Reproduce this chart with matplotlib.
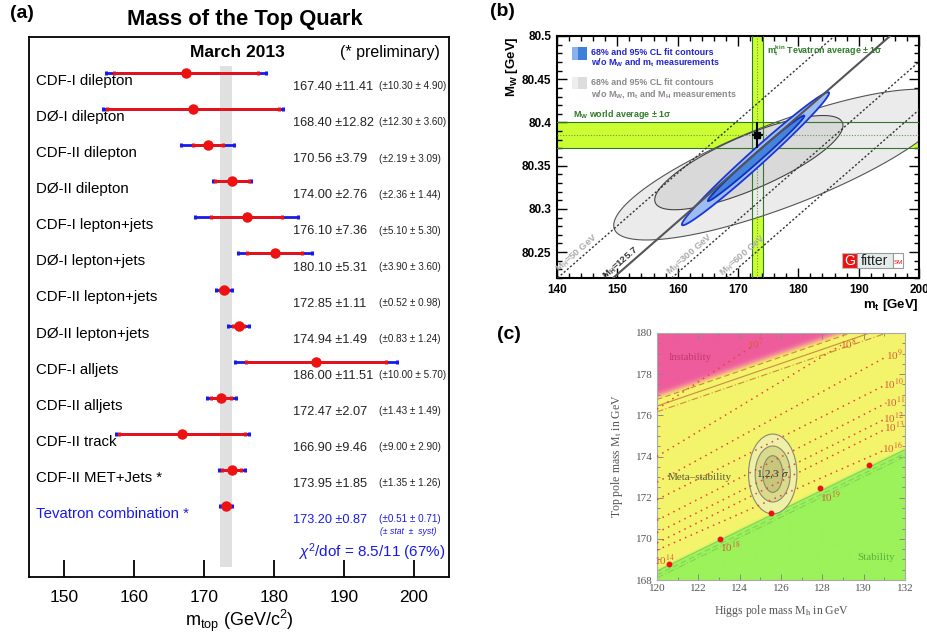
import numpy as np
import matplotlib
matplotlib.use('Agg')
import matplotlib.pyplot as plt
from matplotlib.patches import Ellipse, Rectangle
from matplotlib.colors import LinearSegmentedColormap, to_rgb
from matplotlib.ticker import MultipleLocator, FuncFormatter

plt.rcParams['font.family'] = ['Liberation Sans', 'DejaVu Sans']
plt.rcParams['mathtext.fontset'] = 'custom'
plt.rcParams['mathtext.rm'] = 'Liberation Sans'
plt.rcParams['mathtext.it'] = 'Liberation Sans:italic'
plt.rcParams['mathtext.bf'] = 'Liberation Sans:bold'

W_PX, H_PX = 927, 635

# ---------------- (a) top quark mass measurements ----------------
meas_names = ['CDF-I dilepton', 'DØ-I dilepton', 'CDF-II dilepton', 'DØ-II dilepton',
              'CDF-I lepton+jets', 'DØ-I lepton+jets', 'CDF-II lepton+jets',
              'DØ-II lepton+jets', 'CDF-I alljets', 'CDF-II alljets', 'CDF-II track',
              'CDF-II MET+Jets *', 'Tevatron combination *']
meas_mass = [167.40, 168.40, 170.56, 174.00, 176.10, 180.10, 172.85, 174.94,
             186.00, 172.47, 166.90, 173.95, 173.20]
meas_tot = [11.41, 12.82, 3.79, 2.76, 7.36, 5.31, 1.11, 1.49, 11.51, 2.07, 9.46, 1.85, 0.87]
meas_stat = [10.30, 12.30, 2.19, 2.36, 5.10, 3.90, 0.52, 0.83, 10.00, 1.43, 9.00, 1.35, 0.51]
meas_syst = [4.90, 3.60, 3.09, 1.44, 5.30, 3.60, 0.98, 1.24, 5.70, 1.49, 2.90, 1.26, 0.71]
mtop_ticks = [150, 160, 170, 180, 190, 200]

# ---------------- (b) Gfitter M_W vs m_t ----------------
mw_avg, mw_err = 80.385, 0.015
# M_H lines: m_t where each line meets the bottom (80.22) and the top (80.5) of the frame
mh_line_names = ['M$_\\mathbf{H}$=50 GeV', 'M$_\\mathbf{H}$=125.7',
                 'M$_\\mathbf{H}$=300 GeV', 'M$_\\mathbf{H}$=600 GeV']
mh_line_lo = [140.1, 149.3, 159.0, 168.1]
mh_line_hi = [186.0, 195.2, 204.9, 214.0]
mh_label_mt = [143.9, 151.2, 162.6, 171.5]
# contours: centre m_t, half width, centre M_W, half height, phase
gray95 = (177.3, 27.9, 80.3512, 0.0872, 0.633)
gray68 = (171.8, 15.6, 80.3535, 0.0545, 0.663)
blue95 = (172.9, 12.2, 80.358, 0.077, 0.16)
blue68 = (173.0, 8.0, 80.3585, 0.0495, 0.13)

# ---------------- (c) vacuum stability ----------------
instab_mh = [120.0, 130.3]
instab_mt = [176.45, 180.0]
stab_mh = [120.0, 132.0]
stab_mt = [168.55, 174.45]
scale_names = ['7', '8', '9', '10', '11', '12', '13', '16']
scale_lo_mt = [176.3, 174.0, 172.75, 171.9, 170.9, 170.3, 169.8, 169.45]
scale_hi_mh = [124.6, 128.9, 131.1, 131.1, 131.1, 131.1, 131.1, 131.1]
scale_hi_mt = [179.35, 179.4, 178.85, 177.5, 176.6, 175.85, 175.35, 174.35]
scale_lab_mh = [124.75, 129.25, 131.5, 131.45, 131.5, 131.45, 131.5, 131.4]
scale_lab_mt = [179.42, 179.42, 178.93, 177.55, 176.66, 175.89, 175.42, 174.43]
dot_mh = [120.6, 123.05, 125.5, 127.9, 130.25]
dot_mt = [168.8, 170.0, 171.25, 172.45, 173.6]
fit_mh, fit_mt = 125.6, 173.15
sigma_w = [1.17, 0.85, 0.48]
sigma_h = [1.94, 1.36, 0.89]


def px_axes(fig, x0, y0, x1, y1):
    return fig.add_axes([x0 / W_PX, 1 - y1 / H_PX, (x1 - x0) / W_PX, (y1 - y0) / H_PX])


fig = plt.figure(figsize=(W_PX / 100, H_PX / 100), dpi=100)

# ======================= panel (a) =======================
red, blue = '#ee1111', '#1a1ae6'
axa = px_axes(fig, 29, 37, 449, 577)
axa.set_xlim(145, 205)
axa.set_ylim(13.97, -1.0)
rows = np.arange(len(meas_names))

axa.axvspan(meas_mass[-1] - meas_tot[-1], meas_mass[-1] + meas_tot[-1],
            ymin=0.0185, ymax=0.946, color='#e0e0e0', lw=0, zorder=0)
axa.errorbar(meas_mass, rows, xerr=meas_tot, fmt='none', ecolor=blue,
             elinewidth=2, capsize=1.6, capthick=2.2, zorder=2)
axa.errorbar(meas_mass, rows, xerr=meas_stat, fmt='none', ecolor=red,
             elinewidth=2, capsize=1.6, capthick=2.2, zorder=3)
axa.plot(meas_mass, rows, 'o', color=red, ms=6.5, zorder=4)

for i, name in enumerate(meas_names):
    last = i == len(meas_names) - 1
    col = blue if last else 'black'
    ncol = blue if last else '#222222'
    axa.text(146.0, i + 0.22, name, fontsize=10.8, color=col, va='center')
    axa.text(182.7, i + 0.39, f'{meas_mass[i]:.2f} ±{meas_tot[i]:.2f}',
             fontsize=9.2, color=ncol, va='center')
    axa.text(195.0, i + 0.37, f'(±{meas_stat[i]:.2f} ± {meas_syst[i]:.2f})',
             fontsize=7.1, color=ncol, va='center')

axa.text(195.1, 12.72, '(± stat  ±  syst)', fontsize=6.2, style='italic', color=blue, va='center')
axa.text(194.0, 13.27, r'$\chi^2$/dof = 8.5/11 (67%)', fontsize=11, color=blue,
         ha='center', va='center')
axa.text(174.7, -0.58, 'March 2013', fontsize=12.5, fontweight='bold', ha='center', va='center')
axa.text(196.6, -0.58, '(* preliminary)', fontsize=11.5, ha='center', va='center')

axa.set_xticks(mtop_ticks)
axa.set_yticks([])
axa.tick_params(axis='x', direction='in', length=12, width=1.3, labelsize=12.5, pad=9)
axa.set_xlabel(r'm$_{\rm top}$ (GeV/c$^2$)', fontsize=13, labelpad=2)
for s in axa.spines.values():
    s.set_linewidth(1.3)

fig.text(245 / W_PX, 1 - 20 / H_PX, 'Mass of the Top Quark', fontsize=15.8,
         fontweight='bold', ha='center', va='center')
fig.text(10 / W_PX, 1 - 13 / H_PX, '(a)', fontsize=14, fontweight='bold', va='center')

# ======================= panel (b) =======================
lime, dgreen = '#ccff33', '#2f7a2a'
axb = px_axes(fig, 557, 36, 919, 278)
axb.set_xlim(140, 200)
axb.set_ylim(80.22, 80.5)

mt_avg, mt_err = meas_mass[-1], meas_tot[-1]
axb.axvspan(mt_avg - mt_err, mt_avg + mt_err, color=lime, lw=0, zorder=1)
axb.axhspan(mw_avg - mw_err, mw_avg + mw_err, color=lime, lw=0, zorder=1)


def contour(ax, pars, fc, ec, lw, z):
    cm, a, cw, b, phi = pars
    t = np.linspace(0, 2 * np.pi, 400)
    ax.fill(cm + a * np.cos(t), cw + b * np.cos(t + phi), facecolor=fc,
            edgecolor=ec, lw=lw, zorder=z)


contour(axb, gray95, '#ebebeb', '#555555', 0.8, 2)
contour(axb, gray68, '#d9d9d9', '#444444', 0.8, 3)

for v in (mt_avg - mt_err, mt_avg + mt_err):
    axb.axvline(v, color=dgreen, lw=0.8, zorder=4)
for v in (mw_avg - mw_err, mw_avg + mw_err):
    axb.axhline(v, color=dgreen, lw=0.8, zorder=4)
axb.axvline(mt_avg, color='#6a9a40', lw=0.8, ls=(0, (1, 1.5)), zorder=4)
axb.axhline(mw_avg, color='#6a9a40', lw=0.8, ls=(0, (1, 1.5)), zorder=4)

contour(axb, blue95, '#9dbcf2', '#1a35d8', 1.3, 5)
contour(axb, blue68, '#4684dc', '#1030c0', 1.3, 6)

for k in range(4):
    solid = (k == 1)
    axb.plot([mh_line_lo[k], mh_line_hi[k]], [80.22, 80.5],
             color='#555555' if solid else '#333333', lw=1.5 if solid else 1.0,
             ls='-' if solid else (0, (1.5, 1.5)), zorder=7)
    frac = (mh_label_mt[k] - mh_line_lo[k]) / (mh_line_hi[k] - mh_line_lo[k])
    wy = 80.22 + 0.28 * frac
    ang = np.degrees(np.arctan2(0.28, mh_line_hi[k] - mh_line_lo[k]))
    axb.text(mh_label_mt[k], wy, mh_line_names[k], fontsize=6.8, fontweight='bold',
             color='#333333' if solid else '#aaaaaa', rotation=ang,
             rotation_mode='anchor', transform_rotates_text=True,
             ha='center', va='bottom', zorder=7)

axb.errorbar(mt_avg, mw_avg, xerr=mt_err, yerr=mw_err, fmt='s', color='black',
             ms=4, elinewidth=1.5, capsize=0, zorder=9)

# legend texts
axb.add_patch(Rectangle((0.041, 0.901), 0.016, 0.054, transform=axb.transAxes,
                        facecolor='#8ab0ee', lw=0, zorder=10))
axb.add_patch(Rectangle((0.057, 0.901), 0.026, 0.054, transform=axb.transAxes,
                        facecolor='#3f7fdc', lw=0, zorder=10))
axb.add_patch(Rectangle((0.041, 0.78), 0.016, 0.05, transform=axb.transAxes,
                        facecolor='#eeeeee', lw=0, zorder=10))
axb.add_patch(Rectangle((0.057, 0.78), 0.026, 0.05, transform=axb.transAxes,
                        facecolor='#dddddd', lw=0, zorder=10))
tb = dict(transform=axb.transAxes, fontsize=6.4, fontweight='bold', va='center', zorder=10)
axb.text(0.094, 0.93, '68% and 95% CL fit contours', color='#2424cc', **tb)
axb.text(0.094, 0.888, 'w/o M$_\\mathbf{W}$ and m$_\\mathbf{t}$ measurements', color='#2424cc', **tb)
axb.text(0.094, 0.806, '68% and 95% CL fit contours', color='#8a8a8a', **tb)
axb.text(0.094, 0.762, 'w/o M$_\\mathbf{W}$, m$_\\mathbf{t}$ and M$_\\mathbf{H}$ measurements',
         color='#8a8a8a', **tb)
axb.text(0.044, 0.674, 'M$_\\mathbf{W}$ world average ± 1σ', color=dgreen, **tb)
axb.text(0.58, 0.938, 'm$_\\mathbf{t}^\\mathbf{kin}$ Tevatron average ± 1σ', color=dgreen, **tb)

# Gfitter logo
axb.add_patch(Rectangle((0.787, 0.041), 0.042, 0.062, transform=axb.transAxes,
                        facecolor='#ee1111', edgecolor='#bbbbbb', lw=0.8, zorder=10))
axb.add_patch(Rectangle((0.829, 0.041), 0.099, 0.062, transform=axb.transAxes,
                        facecolor='#e4ecec', edgecolor='#999999', lw=0.8, zorder=10))
axb.add_patch(Rectangle((0.928, 0.041), 0.028, 0.062, transform=axb.transAxes,
                        facecolor='white', edgecolor='#999999', lw=0.8, zorder=10))
axb.text(0.808, 0.072, 'G', transform=axb.transAxes, color='white', fontsize=10,
         ha='center', va='center', zorder=11)
axb.text(0.878, 0.072, 'fitter', transform=axb.transAxes, color='#222222', fontsize=10,
         ha='center', va='center', zorder=11)
axb.text(0.942, 0.062, 'SM', transform=axb.transAxes, color='#ee1111', fontsize=4.5,
         ha='center', va='center', zorder=11)

axb.xaxis.set_major_locator(MultipleLocator(10))
axb.xaxis.set_minor_locator(MultipleLocator(2))
axb.yaxis.set_major_locator(MultipleLocator(0.05))
axb.yaxis.set_minor_locator(MultipleLocator(0.01))
axb.yaxis.set_major_formatter(FuncFormatter(lambda v, p: f'{v:g}'))
axb.tick_params(which='both', direction='in', top=True, right=True, width=1.0)
axb.tick_params(which='major', length=7, labelsize=8.5, pad=4)
axb.tick_params(which='minor', length=3.5)
for lbl in axb.get_xticklabels() + axb.get_yticklabels():
    lbl.set_fontweight('bold')
for s in axb.spines.values():
    s.set_linewidth(1.5)
axb.text(-0.124, 1.0, 'M$_\\mathbf{W}$ [GeV]', transform=axb.transAxes, rotation=90,
         fontsize=9.5, fontweight='bold', ha='center', va='top')
axb.text(1.0, -0.112, 'm$_\\mathbf{t}$ [GeV]', transform=axb.transAxes,
         fontsize=9.5, fontweight='bold', ha='right', va='center')
fig.text(490 / W_PX, 1 - 12 / H_PX, '(b)', fontsize=14, fontweight='bold', va='center')

# ======================= panel (c) =======================
axc = px_axes(fig, 657, 333, 905, 580)
mh_g = np.linspace(120, 132, 600)
mt_g = np.linspace(168, 180, 600)
MH, MT = np.meshgrid(mh_g, mt_g)
s_in = (instab_mt[1] - instab_mt[0]) / (instab_mh[1] - instab_mh[0])
s_st = (stab_mt[1] - stab_mt[0]) / (stab_mh[1] - stab_mh[0])
line_in = instab_mt[0] + s_in * (MH - instab_mh[0])
line_st = stab_mt[0] + s_st * (MH - stab_mh[0])
pink_cmap = LinearSegmentedColormap.from_list(
    'pk', ['#f4f46c', '#f6c47a', '#f3869a', '#f0649e', '#ee5c9c'])
p = np.clip((MT - line_in - 0.3) / 0.55, 0, 1)
g = np.clip((line_st - MT + 0.02) / 0.22, 0, 1)
img = pink_cmap(p)[..., :3]
green = np.array(to_rgb('#9cf25a'))
img = img * (1 - g[..., None]) + green * g[..., None]
axc.imshow(img, extent=[120, 132, 168, 180], origin='lower', aspect='auto',
           interpolation='bilinear', zorder=0)

mh_edge = np.array([120.0, 132.0])
for off, ls in [(0.32, (0, (5, 3))), (0.0, '-'), (-0.28, (0, (6, 2, 1, 2)))]:
    axc.plot(mh_edge, instab_mt[0] + off + s_in * (mh_edge - instab_mh[0]),
             color='#cc8a44', lw=0.8, ls=ls, zorder=2)
for off, ls in [(-0.12, '-'), (-0.3, (0, (5, 3))), (-0.45, (0, (6, 2, 1, 2)))]:
    axc.plot(mh_edge, stab_mt[0] + off + s_st * (mh_edge - stab_mh[0]),
             color='#7fd35a', lw=0.8, ls=ls, zorder=2)

ell_fc = ['#eef0a8', '#d9da8c', '#c6c67c']
for k in range(3):
    axc.add_patch(Ellipse((fit_mh, fit_mt), 2 * sigma_w[k], 2 * sigma_h[k],
                          facecolor=ell_fc[k], edgecolor='#8a8a6a', lw=0.8, zorder=3))
axc.text(fit_mh, fit_mt - 0.05, r'1,2,3 $\sigma$', fontsize=8, color='#333333',
         family='Liberation Serif', math_fontfamily='stix', ha='center', va='center', zorder=6)

for k in range(len(scale_names)):
    axc.plot([120.0, scale_hi_mh[k]], [scale_lo_mt[k], scale_hi_mt[k]], color='#e8403a',
             lw=1.1, ls=(0, (1, 3)), zorder=4)
    axc.text(scale_lab_mh[k], scale_lab_mt[k], '10$^{' + scale_names[k] + '}$',
             fontsize=8, color='#d6603a', family='Liberation Serif', math_fontfamily='stix',
             ha='center', va='center', zorder=6)
axc.plot(dot_mh, dot_mt, 'o', color='#ee1111', ms=3.2, zorder=5)
for lab, x, y in [('14', 120.35, 169.0), ('18', 123.55, 169.6), ('19', 128.4, 172.05)]:
    axc.text(x, y, '10$^{' + lab + '}$', fontsize=8, color='#d6603a',
             family='Liberation Serif', math_fontfamily='stix', ha='center', va='center', zorder=6)

serif = dict(family='Liberation Serif', zorder=6)
axc.text(120.55, 178.8, 'Instability', fontsize=7.6, color='#c03a6a', va='center', **serif)
axc.text(120.53, 173.0, 'Meta–stability', fontsize=8, color='#5a5a40', va='center', **serif)
axc.text(129.68, 169.07, 'Stability', fontsize=8, color='#5ab040', va='center', **serif)

axc.set_xlim(120, 132)
axc.set_ylim(168, 180)
axc.xaxis.set_major_locator(MultipleLocator(2))
axc.xaxis.set_minor_locator(MultipleLocator(1))
axc.yaxis.set_major_locator(MultipleLocator(2))
axc.yaxis.set_minor_locator(MultipleLocator(0.5))
axc.tick_params(which='both', direction='in', top=True, right=True, color='#888888',
                width=0.7, labelsize=8, labelcolor='#555555', labelfontfamily='Liberation Serif')
axc.tick_params(which='major', length=4.5, pad=3)
axc.tick_params(which='minor', length=2.5)
for s in axc.spines.values():
    s.set_color('#aaaaaa')
    s.set_linewidth(0.8)
axc.set_xlabel(r'Higgs pole mass M$_\mathrm{h}$ in GeV', fontsize=8.5, color='#555555',
               family='Liberation Serif', math_fontfamily='stix', labelpad=7)
axc.set_ylabel(r'Top pole mass M$_\mathrm{t}$ in GeV', fontsize=8.5, color='#555555',
               family='Liberation Serif', math_fontfamily='stix')
axc.yaxis.set_label_coords(-0.128, 0.5)
fig.text(497 / W_PX, 1 - 335 / H_PX, '(c)', fontsize=14, fontweight='bold', va='center')

fig.savefig('out.png', dpi=100)
